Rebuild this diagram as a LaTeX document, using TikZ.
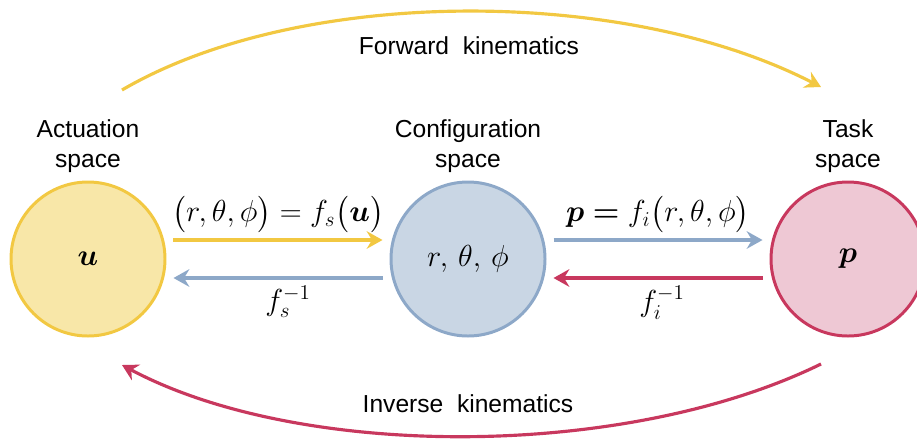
\documentclass[tikz,border=0pt]{standalone}
\usepackage{amsmath}
\usepackage[no-math]{fontspec}
\newfontfamily\labelfont{Liberation Sans}
\usetikzlibrary{arrows.meta, positioning}

\definecolor{actfill}{RGB}{248,231,168}
\definecolor{actline}{RGB}{242,200,66}
\definecolor{conffill}{RGB}{201,214,228}
\definecolor{confline}{RGB}{141,168,200}
\definecolor{taskfill}{RGB}{238,200,212}
\definecolor{taskline}{RGB}{200,56,94}

\begin{document}
\begin{tikzpicture}[>={Stealth[length=9pt, width=10pt, inset=3pt]},
    ball/.style={circle, line width=1.7pt, minimum size=3.08cm, inner sep=0pt, font=\fontsize{17}{20}\selectfont},
    heading/.style={align=center, inner sep=0pt, font=\labelfont\fontsize{14}{17}\selectfont},
    link/.style={->, line width=1.8pt, shorten <=0.14cm, shorten >=0.14cm},
    formula/.style={text=black, font=\fontsize{17}{20}\selectfont},
    sweep/.style={->, line width=1.8pt}]

    % Define variables/coordinates
    \def\Gap{0.38}
    \useasboundingbox (0,0) rectangle (18.34,8.82);

    % Draw the three spaces
    \node[ball, draw=actline, fill=actfill] (act) at (1.76,3.64) {$\boldsymbol{u}$};
    \node[ball, draw=confline, fill=conffill] (conf) at (9.36,3.64) {$r,\,\theta,\,\phi$};
    \node[ball, draw=taskline, fill=taskfill] (task) at (16.96,3.64) {$\boldsymbol{p}$};

    % Space names
    \node[heading, above=0.16cm of act] (actname) {Actuation\\space};
    \node[heading, above=0.16cm of conf] (confname) {Configuration\\space};
    \node[heading, above=0.16cm of task] (taskname) {Task\\space};

    % Mappings between neighbouring spaces
    \draw[link, actline] ([yshift=\Gap cm]act.east) -- ([yshift=\Gap cm]conf.west)
        node[midway, above, formula] {$\bigl(r,\theta,\phi\bigr)=f_s\bigl(\boldsymbol{u}\bigr)$};
    \draw[link, confline] ([yshift=-\Gap cm]conf.west) -- ([yshift=-\Gap cm]act.east)
        node[midway, below, xshift=0.2cm, formula] {$f_s^{-1}$};
    \draw[link, confline] ([yshift=\Gap cm]conf.east) -- ([yshift=\Gap cm]task.west)
        node[midway, above, formula] {$\boldsymbol{p}\mathrel{\boldsymbol{=}}f_i\bigl(r,\theta,\phi\bigr)$};
    \draw[link, taskline] ([yshift=-\Gap cm]task.west) -- ([yshift=-\Gap cm]conf.east)
        node[midway, below, xshift=0.08cm, formula] {$f_i^{-1}$};

    % Forward and inverse kinematics
    \coordinate (fwdstart) at (2.44,7.02);
    \coordinate (fwdend) at (16.42,7.08);
    \coordinate (invstart) at (16.42,1.54);
    \coordinate (invend) at (2.44,1.52);
    \draw[sweep, actline] (fwdstart) .. controls (6,9.1) and (12.5,9.1) .. (fwdend);
    \draw[sweep, taskline] (invstart) .. controls (12.5,-0.38) and (6,-0.38) .. (invend);
    \node[heading] (fwdtext) at (9.38,7.9) {Forward\ \ kinematics};
    \node[heading] (invtext) at (9.36,0.74) {Inverse\ \ kinematics};

\end{tikzpicture}
\end{document}
